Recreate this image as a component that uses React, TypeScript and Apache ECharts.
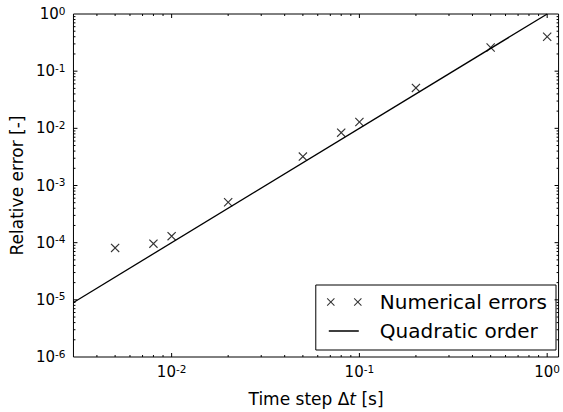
import React, { useEffect, useRef } from "react";
import * as echarts from "echarts";

const ERR_X = [0.005, 0.008, 0.01, 0.02, 0.05, 0.08, 0.1, 0.2, 0.5, 1.0];
const ERR_Y = [8.1e-5, 9.6e-5, 1.3e-4, 5.1e-4, 3.2e-3, 8.4e-3, 1.29e-2, 5.1e-2, 0.26, 0.4];
const QUAD_X = [0.003, 1];
const QUAD_Y = [9e-6, 1];
const X_MIN = 0.003;
const X_MAX = 1.15;
const Y_MIN = 1e-6;
const Y_MAX = 1;
const SERIES_NAMES = ["Numerical errors", "Quadratic order"];
const X_TITLE = "{n|Time step Δ}{i|t}{n| [s]}";
const Y_TITLE = "Relative error [-]";

const FONT = "DejaVu Sans";

function xShape(ox: number, oy: number, s: number, t: number): string {
  const c = s / 2;
  const pts = [
    [0, t], [t, 0], [c, c - t], [s - t, 0], [s, t], [c + t, c],
    [s, s - t], [s - t, s], [c, c + t], [t, s], [0, s - t], [c - t, c],
  ];
  return pts.map((p, i) => (i === 0 ? "M" : "L") + (p[0] + ox) + "," + (p[1] + oy)).join("") + "Z";
}

const MARKER = "path://" + xShape(0, 0, 10, 0.9);
const LEGEND_MARKER = "path://" + xShape(0, 0, 8, 0.75) + xShape(27, 0, 8, 0.75);
const LEGEND_LINE = "path://M2,3.35H32V4.65H2Z M0,0H0.01V0.01H0Z M34.99,7.99H35V8H34.99Z";

function decadeTicks(min: number, max: number) {
  const major: number[] = [];
  const minor: number[] = [];
  for (let e = Math.floor(Math.log10(min)); e <= Math.ceil(Math.log10(max)); e++) {
    for (let m = 1; m <= 9; m++) {
      const v = m * Math.pow(10, e);
      if (v <= min * 1.0001 || v >= max * 0.9999) continue;
      (m === 1 ? major : minor).push(v);
    }
  }
  return { major, minor };
}

function sciLabel(v: number): string {
  const l = Math.log10(v);
  const r = Math.round(l);
  if (Math.abs(l - r) > 1e-6) return "";
  return "{b|10}{s|" + r + "}";
}

const labelRich = {
  b: { fontFamily: FONT, fontSize: 15, color: "#000", lineHeight: 18 },
  s: { fontFamily: FONT, fontSize: 10.5, color: "#000", verticalAlign: "top" as const, lineHeight: 12 },
};

export default function App() {
  const ref = useRef<HTMLDivElement>(null);
  useEffect(() => {
    if (!ref.current) return;
    const chart = echarts.init(ref.current, undefined, { renderer: "svg" });
    const xt = decadeTicks(X_MIN, X_MAX);
    const yt = decadeTicks(Y_MIN, Y_MAX);
    const tickData: number[][] = [];
    xt.major.forEach((v) => tickData.push([v, Y_MIN, 0]));
    xt.minor.forEach((v) => tickData.push([v, Y_MIN, 1]));
    yt.major.forEach((v) => tickData.push([X_MIN, v, 2]));
    yt.minor.forEach((v) => tickData.push([X_MIN, v, 3]));

    chart.setOption({
      animation: false,
      grid: {
        left: 71,
        right: 1,
        top: 14,
        bottom: 53,
        show: true,
        borderColor: "#000",
        borderWidth: 1,
        backgroundColor: "transparent",
      },
      legend: {
        orient: "vertical",
        right: 7,
        bottom: 62,
        padding: [6, 9, 8, 11],
        itemGap: 7,
        itemWidth: 35,
        itemHeight: 8,
        borderColor: "#000",
        borderWidth: 1,
        borderRadius: 0,
        backgroundColor: "#fff",
        selectedMode: false,
        textStyle: { fontFamily: FONT, fontSize: 20, color: "#000", lineHeight: 22, padding: [0, 0, 0, 13] },
        data: [
          { name: SERIES_NAMES[0], icon: LEGEND_MARKER },
          { name: SERIES_NAMES[1], icon: LEGEND_LINE, itemStyle: { color: "#000" } },
        ],
      },
      xAxis: {
        type: "log",
        logBase: 10,
        min: X_MIN,
        max: X_MAX,
        name: X_TITLE,
        nameLocation: "middle",
        nameGap: 33,
        nameTextStyle: {
          rich: {
            n: { fontFamily: FONT, fontSize: 17, color: "#000" },
            i: { fontFamily: FONT, fontSize: 17, color: "#000", fontStyle: "italic" },
          },
        },
        axisLine: { show: false },
        axisTick: { show: false },
        splitLine: { show: false },
        minorTick: { show: false },
        axisLabel: { margin: 6, formatter: sciLabel, rich: labelRich, showMinLabel: true, showMaxLabel: true },
      },
      yAxis: {
        type: "log",
        logBase: 10,
        min: Y_MIN,
        max: Y_MAX,
        name: Y_TITLE,
        nameLocation: "middle",
        nameGap: 43,
        nameTextStyle: { fontFamily: FONT, fontSize: 17, color: "#000" },
        axisLine: { show: false },
        axisTick: { show: false },
        splitLine: { show: false },
        axisLabel: { margin: 8, formatter: sciLabel, rich: labelRich },
      },
      series: [
        {
          name: SERIES_NAMES[0],
          type: "scatter",
          symbol: MARKER,
          symbolSize: 9,
          itemStyle: { color: "#000" },
          data: ERR_X.map((x, i) => [x, ERR_Y[i]]),
          z: 5,
        },
        {
          name: SERIES_NAMES[1],
          type: "line",
          symbol: "none",
          showSymbol: false,
          lineStyle: { color: "#000", width: 1.3 },
          itemStyle: { color: "#000" },
          data: QUAD_X.map((x, i) => [x, QUAD_Y[i]]),
          z: 4,
        },
        {
          type: "custom",
          silent: true,
          encode: { x: 0, y: 1 },
          data: tickData,
          z: 6,
          renderItem: (params: any, api: any) => {
            const cs = params.coordSys;
            const kind = api.value(2);
            const st = { stroke: "#000", lineWidth: 1 };
            if (kind < 2) {
              const p = api.coord([api.value(0), Y_MIN]);
              const len = kind === 0 ? 4 : 2;
              const b = cs.y + cs.height;
              const t = cs.y;
              return {
                type: "group",
                children: [
                  { type: "line", shape: { x1: p[0], y1: b, x2: p[0], y2: b - len }, style: st },
                  { type: "line", shape: { x1: p[0], y1: t, x2: p[0], y2: t + len }, style: st },
                ],
              };
            }
            const p = api.coord([X_MIN, api.value(1)]);
            const len = kind === 2 ? 4 : 2;
            const l = cs.x;
            const r = cs.x + cs.width;
            return {
              type: "group",
              children: [
                { type: "line", shape: { x1: l, y1: p[1], x2: l + len, y2: p[1] }, style: st },
                { type: "line", shape: { x1: r, y1: p[1], x2: r - len, y2: p[1] }, style: st },
              ],
            };
          },
        },
      ],
    });
    return () => chart.dispose();
  }, []);
  return <div ref={ref} style={{ width: 563, height: 412, position: "absolute", left: 0, top: 0 }} />;
}
